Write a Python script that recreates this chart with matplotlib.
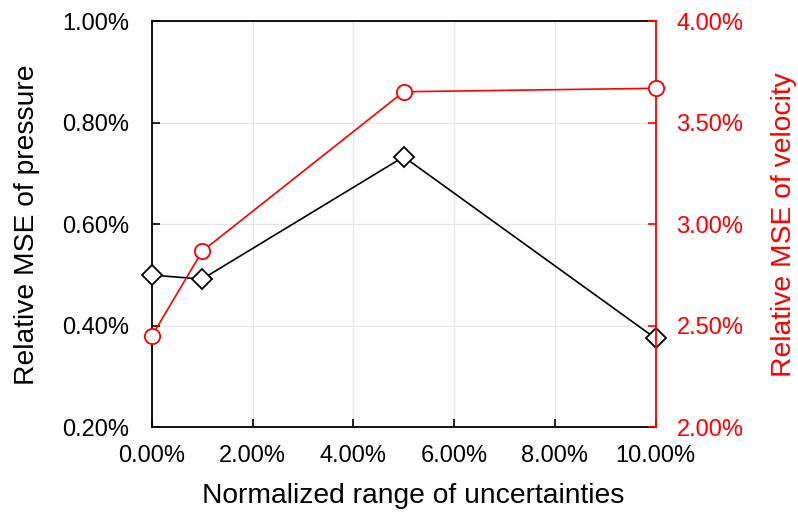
import matplotlib
matplotlib.use("Agg")
import matplotlib.pyplot as plt
from matplotlib.ticker import FuncFormatter

plt.rcParams['font.family'] = ['Liberation Sans', 'DejaVu Sans']

x_vals = [0.0, 1.0, 5.0, 10.0]
pressure = [0.50, 0.492, 0.733, 0.375]
velocity = [2.448, 2.867, 3.653, 3.670]
x_ticks = [0, 2, 4, 6, 8, 10]
left_ticks = [0.2, 0.4, 0.6, 0.8, 1.0]
right_ticks = [2.0, 2.5, 3.0, 3.5, 4.0]

fig = plt.figure(figsize=(7.98, 5.12), dpi=100)
ax = fig.add_axes([151.7/798, 1 - 427.3/512, (655.7-151.7)/798, (427.3-21.3)/512])
ax2 = ax.twinx()

fmt = FuncFormatter(lambda v, p: f"{v:.2f}%")

ax.plot(x_vals, pressure, color='black', lw=1.2, marker='D', ms=10,
        mfc='white', mec='black', mew=1.3, zorder=3, clip_on=False)
ax2.plot(x_vals, velocity, color='red', lw=1.2, marker='o', ms=11,
         mfc='white', mec='red', mew=1.3, zorder=3, clip_on=False)

ax.set_xlim(0, 10)
ax.set_ylim(0.2, 1.0)
ax2.set_ylim(2.0, 4.0)
ax.set_xticks(x_ticks)
ax.set_yticks(left_ticks)
ax2.set_yticks(right_ticks)
ax.xaxis.set_major_formatter(fmt)
ax.yaxis.set_major_formatter(fmt)
ax2.yaxis.set_major_formatter(fmt)

ax.grid(True, color='#e6e6e6', lw=0.9)
ax.set_axisbelow(True)

fs = 17
ax.tick_params(axis='x', direction='in', length=6, width=1.2, labelsize=fs, pad=13, colors='black')
ax.tick_params(axis='y', direction='in', length=6, width=1.2, labelsize=fs, pad=16, colors='black')
ax2.tick_params(axis='y', direction='in', length=6, width=1.2, labelsize=fs, pad=15, colors='red')

for sp in ['left', 'bottom', 'top']:
    ax.spines[sp].set_linewidth(1.3)
    ax.spines[sp].set_color('black')
ax.spines['right'].set_visible(False)
for sp in ['left', 'bottom', 'top']:
    ax2.spines[sp].set_visible(False)
ax2.spines['right'].set_color('red')
ax2.spines['right'].set_linewidth(1.3)

lfs = 20.3
ax.set_xlabel('Normalized range of uncertainties', fontsize=lfs)
ax.xaxis.set_label_coords(0.519, -0.137)
ax.set_ylabel('Relative MSE of pressure', fontsize=lfs, labelpad=16)
ax2.set_ylabel('Relative MSE of velocity', fontsize=lfs, color='red', labelpad=20)

fig.savefig('out.png', dpi=100)
